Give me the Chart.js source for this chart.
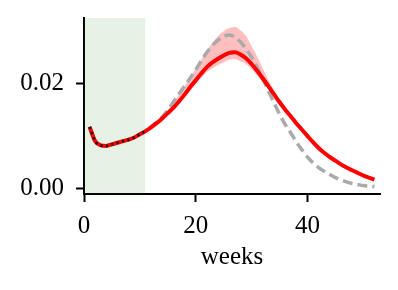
<!DOCTYPE html>
<html>
<head>
<meta charset="utf-8">
<script src="https://cdn.jsdelivr.net/npm/chart.js@4"></script>
<style>
  html, body { margin: 0; padding: 0; background: #fff; }
  #wrap { width: 398px; height: 290px; }
</style>
</head>
<body>
<div id="wrap"><canvas id="c" width="398" height="290"></canvas></div>
<script>
const weeks = [1,2,3,4,5,6,7,8,9,10,11,12,13,14,15,16,17,18,19,20,21,22,23,24,25,26,27,28,29,30,31,32,33,34,35,36,37,38,39,40,41,42,43,44,45,46,47,48,49,50,51,52];
const fitted = [.0117,.0090,.0082,.0081,.0084,.0087,.0090,.0093,.0097,.0103,.0109,.0116,.0124,.0133,.0143,.0153,.0165,.0178,.0192,.0205,.0218,.0230,.0239,.0246,.0252,.0257,.0258,.0254,.0247,.0236,.0223,.0209,.0194,.0179,.0164,.0150,.0137,.0124,.0112,.0100,.0088,.0077,.0068,.0060,.0053,.0046,.0040,.0035,.0030,.0025,.0021,.0017];
const bandLower = [.0116,.0089,.0081,.0080,.0083,.0086,.0089,.0092,.0096,.0102,.0108,.0115,.0123,.0132,.0142,.0151,.0162,.0174,.0187,.0199,.0210,.0221,.0228,.0234,.0239,.0244,.0245,.0241,.0236,.0226,.0214,.0202,.0189,.0175,.0161,.0148,.0136,.0123,.0111,.0099,.0087,.0076,.0067,.0059,.0052,.0045,.0039,.0034,.0029,.0024,.0020,.0016];
const bandUpper = [.0118,.0091,.0083,.0082,.0085,.0088,.0091,.0094,.0098,.0104,.0110,.0117,.0126,.0137,.0149,.0163,.0178,.0194,.0210,.0227,.0244,.0261,.0276,.0289,.0298,.0304,.0306,.0300,.0289,.0270,.0250,.0228,.0206,.0187,.0168,.0152,.0139,.0125,.0113,.0101,.0089,.0078,.0069,.0061,.0054,.0047,.0041,.0036,.0031,.0026,.0022,.0018];
const truth = [.0117,.0090,.0082,.0081,.0084,.0087,.0090,.0093,.0097,.0103,.0109,.0117,.0126,.0136,.0149,.0164,.0179,.0194,.0209,.0225,.0242,.0258,.0271,.0281,.0288,.0291,.0287,.0278,.0265,.0249,.0230,.0208,.0186,.0163,.0141,.0122,.0106,.0089,.0074,.0060,.0049,.0040,.0033,.0027,.0021,.0017,.0013,.0010,.0008,.0006,.0005,.0004];
const observedWeeks = [1,2,3,4,5,6,7,8,9,10,11];
const observed = [.0117,.0090,.0082,.0081,.0084,.0087,.0090,.0093,.0097,.0103,.0109];
const shadeWeeks = [0, 11];
const xTickValues = [0, 20, 40];
const yTickValues = [0.00, 0.02];
const xLimits = [0, 53];
const yLimits = [-0.001, 0.0323];
const xTitle = 'weeks';

const pts = (xs, ys) => xs.map((x, i) => ({ x: x, y: ys[i] }));
const FONT = 'Liberation Serif';
const smooth = { cubicInterpolationMode: 'monotone' };

const chart = new Chart(document.getElementById('c'), {
  type: 'line',
  data: {
    datasets: [
      Object.assign({ data: pts(observedWeeks, observed), borderColor: '#1a1a1a', borderWidth: 2.8, borderDash: [2.2, 3.35], pointRadius: 0, fill: false }, smooth),
      Object.assign({ data: pts(weeks, fitted), borderColor: '#ff0000', borderWidth: 4, pointRadius: 0, fill: false }, smooth),
      Object.assign({ data: pts(weeks, truth), borderColor: '#aaaaaa', borderWidth: 3.5, borderDash: [10, 5], pointRadius: 0, fill: false }, smooth),
      Object.assign({ data: pts(weeks, bandUpper), borderWidth: 0, borderColor: 'rgba(0,0,0,0)', backgroundColor: 'rgba(255,0,0,0.25)', pointRadius: 0, fill: 4 }, smooth),
      Object.assign({ data: pts(weeks, bandLower), borderWidth: 0, borderColor: 'rgba(0,0,0,0)', pointRadius: 0, fill: false }, smooth),
      { data: pts(shadeWeeks, [yLimits[1], yLimits[1]]), borderWidth: 0, borderColor: 'rgba(0,0,0,0)', backgroundColor: 'rgba(0,128,0,0.1)', pointRadius: 0, fill: 'start' }
    ]
  },
  options: {
    responsive: false,
    animation: false,
    events: [],
    layout: { padding: { top: 18, right: 18, left: 0, bottom: 0 } },
    plugins: { legend: { display: false }, tooltip: { enabled: false } },
    scales: {
      x: {
        type: 'linear',
        min: xLimits[0], max: xLimits[1],
        afterBuildTicks: s => { s.ticks = xTickValues.map(v => ({ value: v })); },
        afterFit: s => { s.height = 96; s.paddingLeft = 0; s.paddingRight = 0; },
        grid: { drawOnChartArea: false, drawTicks: true, tickLength: 8, color: '#000', tickWidth: 2 },
        border: { display: true, color: '#000', width: 2 },
        ticks: { color: '#000', font: { family: FONT, size: 25 }, padding: 9, maxRotation: 0, callback: v => String(v) },
        title: { display: true, text: xTitle, color: '#000', font: { family: FONT, size: 25 }, padding: { top: 0, bottom: 18 } }
      },
      y: {
        type: 'linear',
        min: yLimits[0], max: yLimits[1],
        afterBuildTicks: s => { s.ticks = yTickValues.map(v => ({ value: v })); },
        afterFit: s => { s.width = 84; s.paddingTop = 0; s.paddingBottom = 0; },
        grid: { drawOnChartArea: false, drawTicks: true, tickLength: 8, color: '#000', tickWidth: 2 },
        border: { display: true, color: '#000', width: 2 },
        ticks: { color: '#000', font: { family: FONT, size: 25 }, padding: 12, callback: v => v.toFixed(2) }
      }
    }
  }
});
</script>
</body>
</html>
